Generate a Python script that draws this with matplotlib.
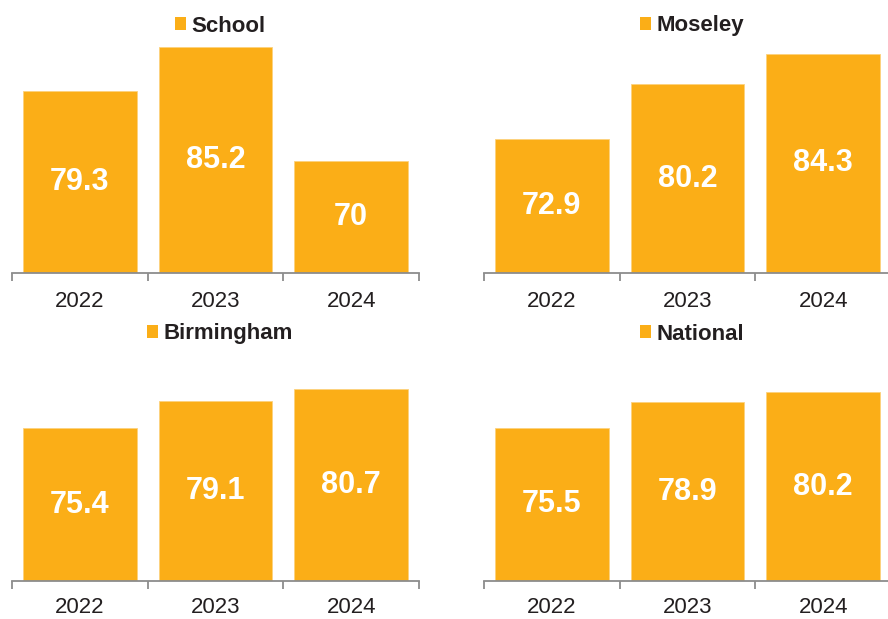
import matplotlib
matplotlib.use("Agg")
import matplotlib.pyplot as plt
from matplotlib.patches import Patch
import numpy as np

plt.rcParams['font.family'] = ['Liberation Sans', 'DejaVu Sans']

years = ["2022", "2023", "2024"]
school = [79.3, 85.2, 70]
moseley = [72.9, 80.2, 84.3]
birmingham = [75.4, 79.1, 80.7]
national = [75.5, 78.9, 80.2]

panels = [
    ("School", school),
    ("Moseley", moseley),
    ("Birmingham", birmingham),
    ("National", national),
]

BAR = "#FBAE17"
TEXT = "#231F20"
AXIS = "#8C8C8C"

W, H = 888, 619
fig = plt.figure(figsize=(W / 100, H / 100), dpi=100)

# axes boxes in pixels: left, baseline y, width, height, tick-label pad
boxes = [
    (12, 273, 407, 262, 13.0),
    (484, 273, 407, 262, 13.0),
    (12, 581, 407, 262, 11.5),
    (484, 581, 407, 262, 11.5),
]
legend_centers = [(220, 26), (692, 26), (220, 334), (692, 334)]

for (name, vals), (lx, by, w, h, pad), (cx, cy) in zip(panels, boxes, legend_centers):
    ax = fig.add_axes([lx / W, (H - by) / H, w / W, h / H])
    x = np.arange(len(years))
    ax.bar(x, vals, width=0.836, bottom=0, color=BAR, edgecolor="#FCD27E",
           linewidth=0.6, zorder=2)
    ax.set_ylim(55, 90)
    ax.set_xlim(-0.5, len(years) - 0.5)
    for xi, v in zip(x, vals):
        ax.text(xi, (55 + v) / 2, f"{v:g}", ha="center", va="center",
                color="white", fontsize=22, fontweight="bold", zorder=3)
    for s in ("top", "right", "left"):
        ax.spines[s].set_visible(False)
    ax.spines["bottom"].set_color(AXIS)
    ax.spines["bottom"].set_linewidth(1.3)
    ax.set_yticks([])
    ax.set_xticks(x)
    ax.set_xticklabels(years)
    ax.tick_params(axis="x", which="major", length=0, pad=pad,
                   labelsize=16, labelcolor=TEXT)
    ax.set_xticks(np.arange(-0.5, len(years)), minor=True)
    ax.tick_params(axis="x", which="minor", length=5.5, width=1.3,
                   color=AXIS, direction="out")
    fig.legend(handles=[Patch(facecolor=BAR, edgecolor="none", label=name)],
               loc="center", bbox_to_anchor=(cx / W, (H - cy) / H),
               bbox_transform=fig.transFigure, frameon=False,
               prop={"size": 16, "weight": "bold"}, labelcolor=TEXT,
               handlelength=0.5, handleheight=0.55, handletextpad=0.25,
               borderpad=0, borderaxespad=0)

fig.savefig("out.png", dpi=100)
